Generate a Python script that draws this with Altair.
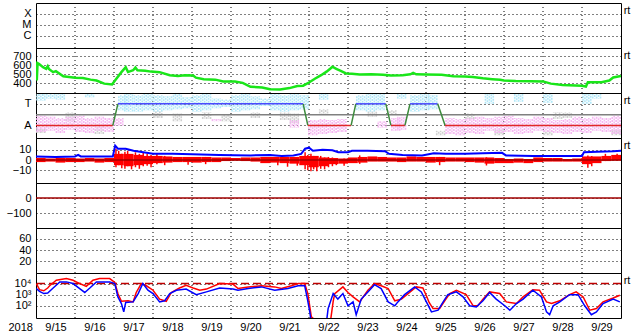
import altair as alt
import pandas as pd

FONT = "Liberation Sans"
W, H = 585, 45

# ---------------- data ----------------
day_labels = [f"9/{d}" for d in range(15, 30)]          # labels at noon of each day
grid_days = list(range(1, 15))                            # day boundaries (dotted)

# panel 1: flare class levels (log10)
xray_levels = [-6, -5, -4]
xray_names = ["C", "M", "X"]

# panel 2: solar wind speed (day since 9/15 00:00, km/s)
speed = [(0.0, 636), (0.02, 430), (0.04, 625), (0.08, 615), (0.18, 580), (0.26, 562), (0.3, 590),
         (0.33, 560), (0.44, 524), (0.51, 535), (0.7, 478), (0.85, 470), (1.0, 462), (1.2, 458),
         (1.4, 440), (1.55, 430), (1.75, 395), (1.95, 385), (2.06, 450), (2.19, 524), (2.3, 580),
         (2.36, 525), (2.49, 545), (2.55, 575), (2.6, 545), (2.8, 540), (2.95, 530), (3.17, 524),
         (3.43, 490), (3.64, 480), (3.82, 488), (4.03, 487), (4.1, 462), (4.3, 445), (4.6, 440),
         (4.8, 420), (5.1, 418), (5.3, 404), (5.5, 360), (5.8, 352), (6.0, 332), (6.26, 330),
         (6.5, 345), (6.7, 368), (6.85, 372), (7.0, 408), (7.15, 450), (7.3, 487), (7.45, 530),
         (7.55, 565), (7.6, 585), (7.7, 560), (7.8, 540), (7.95, 510), (8.1, 505), (8.3, 498),
         (8.6, 500), (8.9, 495), (9.1, 487), (9.4, 490), (9.6, 500), (9.67, 515), (9.75, 500),
         (10.0, 498), (10.4, 495), (10.7, 478), (11.0, 475), (11.2, 470), (11.46, 455), (11.7, 445),
         (11.9, 438), (12.0, 430), (12.3, 424), (12.7, 422), (13.0, 420), (13.2, 395), (13.5, 380),
         (14.0, 372), (14.1, 362), (14.15, 410), (14.5, 412), (14.7, 430), (14.8, 465), (15.0, 480)]

# panel 3: sector polarity (T = +1, A = -1) break points
sector_points = [(0, -1), (1.97, -1), (2.1, 1), (6.85, 1), (6.97, -1), (8.08, -1), (8.2, 1),
                 (8.97, 1), (9.1, -1), (9.46, -1), (9.59, 1), (10.3, 1), (10.49, -1), (15, -1)]
# scatter clouds per 6-hour bin: (bin start day, low, high)
cyan_cloud = [(0.0, 1.3, 1.9), (0.25, 1.5, 1.9), (0.5, 1.4, 1.9), (1.25, 1.6, 1.9),
              (2.1, 0.4, 1.8), (2.25, 0.3, 1.9), (2.5, 0.3, 1.8), (2.75, 0.4, 1.9), (3.0, 0.3, 1.8),
              (3.25, 0.4, 1.7), (3.5, 0.5, 1.9), (3.75, 0.6, 1.6), (4.0, 0.3, 1.8), (4.25, 0.4, 1.9),
              (4.5, 0.6, 1.5), (4.75, 0.7, 1.4), (5.0, 0.3, 1.8), (5.25, 0.4, 1.9), (5.5, 0.5, 1.7),
              (5.75, 0.8, 1.5), (6.0, 0.4, 1.9), (6.25, 0.3, 1.8), (6.5, 0.4, 1.9), (6.75, 0.5, 1.8),
              (7.25, 1.4, 1.9), (8.2, 0.4, 1.8), (8.45, 0.3, 1.9), (8.7, 0.4, 1.9),
              (9.25, 1.5, 1.9), (9.59, 0.3, 1.8), (9.84, 0.4, 1.9), (10.05, 0.5, 1.8),
              (11.5, 1.0, 1.9), (12.25, 1.2, 1.9), (13.0, 1.1, 1.9), (14.0, 1.0, 1.9), (14.25, 1.5, 1.9)]
pink_cloud = [(0.0, -1.6, -0.1), (0.25, -1.5, -0.2), (0.5, -1.7, -0.3), (0.75, -1.4, -0.2),
              (1.0, -1.6, -0.1), (1.25, -1.7, -0.3), (1.5, -1.5, -0.2), (1.75, -1.6, -0.3),
              (2.0, -1.0, -0.3), (4.5, -0.6, -0.4), (6.5, -1.2, -0.5), (6.97, -1.9, -0.5),
              (7.22, -1.8, -0.4), (7.47, -1.7, -0.5), (7.72, -1.6, -0.4), (8.75, -1.2, -0.6),
              (9.1, -1.5, -0.3), (9.25, -1.4, -0.2), (10.49, -1.8, -0.3), (10.75, -1.9, -0.4),
              (11.0, -1.7, -0.3), (11.25, -1.8, -0.2), (11.5, -1.5, -0.3), (11.75, -1.7, -0.2),
              (12.0, -1.6, -0.1), (12.25, -1.8, -0.3), (12.5, -1.7, -0.4), (12.75, -1.5, -0.2),
              (13.0, -1.6, -0.3), (13.25, -1.7, -0.5), (13.5, -1.8, -0.4), (13.75, -1.6, -0.2),
              (14.0, -1.7, -0.3), (14.25, -1.5, -0.2), (14.5, -1.6, -0.3), (14.75, -1.8, -0.1)]
gray_cloud = [(0.0, -1.7, -1.3), (0.75, -0.6, 0.2), (1.5, -1.8, -1.2), (3.0, -0.3, 0.3),
              (3.5, -0.6, 0.1), (4.25, -0.4, 0.2), (4.75, -0.6, 0.0), (5.5, -0.3, 0.2),
              (6.25, -0.5, 0.2), (6.5, -0.8, 0.1), (7.25, 0.1, 0.5), (8.5, -0.2, 0.3),
              (9.0, 0.0, 0.4), (10.25, -1.9, -1.5), (11.0, -0.4, 0.1), (11.75, -1.9, -1.4),
              (13.0, -1.9, -1.5), (13.25, -0.4, 0.2), (13.5, -0.3, 0.2), (14.75, -1.9, -1.4)]

# panel 4: IMF Bt (blue) and Bz (red, nT)
bt = [(0, 3.5), (0.5, 3.0), (1.0, 3.5), (1.08, 5.0), (1.15, 3.5), (1.97, 3.5), (2.03, 14), (2.1, 11),
      (2.3, 11), (2.5, 9), (2.75, 7.5), (3.0, 6), (3.5, 6), (4.0, 5.5), (4.7, 5), (5.5, 4.5),
      (6.0, 5), (6.3, 4), (6.6, 4.5), (6.8, 6), (6.9, 11), (7.0, 12), (7.1, 9), (7.35, 10),
      (7.6, 9.5), (7.75, 7.5), (8.0, 7.5), (8.1, 9), (8.5, 9), (8.95, 8.5), (9.05, 6), (9.4, 5),
      (9.9, 4.5), (10.2, 6.5), (10.5, 6), (11.0, 6), (11.46, 6.5), (11.95, 7), (12.05, 4.5),
      (12.75, 4), (13.5, 4), (14.0, 4), (14.05, 7.5), (14.4, 8), (14.8, 8.5), (15.0, 9)]
bz_lo = [-2, -1.5, -2.5, -2, -2, -1.5, -2.5, -2, -5, -6, -5, -4, -3, -2.5, -2, -2, -2.5, -2, -2,
         -1, -0.5, -1, -1.5, -3, -2.5, -3, -3.5, -5, -7, -6, -4, -3.5, -3, -2.5, -1.5, -1.5,
         -1.5, -2, -1.5, -1.5, -2.5, -2, -1.5, -1.5, -2, -2.5, -3.5, -3, -3, -2.5, -3, -2, -1.5,
         -1.5, -1.5, -1.5, -4, -3, -1, -0.5]
bz_hi = [2, 1.5, 2, 2, 1.5, 2, 1.5, 2, 6, 6, 5, 4, 4, 3.5, 3, 3, 3, 3, 2.5,
         2.5, 2, 2.5, 2.5, 3, 3, 3, 3, 4, 4, 2.5, 2, 1.5, 2.5, 3, 3.5, 3,
         2.5, 2.5, 3.5, 3, 3, 3, 2.5, 2.5, 2.5, 2.5, 2.5, 2, 1, 1.5, 1, 2.5, 2,
         2, 1, 1.5, 3.5, 3.5, 4, 5]
bz_spikes = [(2.05, -7, 11), (2.12, -5, 9), (2.2, -8, 6), (2.28, -8.5, 8), (2.35, -6, 9),
             (2.45, -9, 5), (2.55, -7, 7.5), (2.65, -8.5, 6), (2.75, -6, 7), (2.85, -5.5, 6),
             (2.95, -7, 5), (3.1, -4, 6), (3.3, -5, 4), (3.9, -4.5, 3), (4.35, -4, 3),
             (6.2, -5, 3), (6.45, -6.5, 3), (6.7, -5.5, 3), (6.9, -9, 7.5), (6.97, -10, 5),
             (7.05, -11, 6), (7.12, -9, 4), (7.2, -11, 3), (7.3, -8.5, 4), (7.4, -9, 2.5),
             (7.5, -7, 3), (7.6, -6, 2.5), (7.7, -5, 2), (7.9, -5.5, 1.5), (8.3, -3.7, 4.5),
             (10.35, -5, 3), (11.55, -5.3, 2.7), (14.15, -7.5, 4.4), (14.25, -6, 4),
             (14.6, -1, 6), (14.9, -0.5, 6)]

# panel 5 / 6 tick values
dst_ticks = [0, -100]
kp_ticks = [20, 40, 60]

# panel 7: electron flux, log10 (red and blue satellites)
flux_red = [(0.01, 4.0), (0.09, 3.45), (0.2, 3.35), (0.3, 3.6), (0.35, 3.8), (0.52, 4.3),
            (0.78, 4.45), (0.95, 4.3), (1.12, 4.0), (1.29, 3.75), (1.46, 4.3), (1.63, 4.45),
            (1.89, 4.45), (2.02, 4.1), (2.1, 3.1), (2.19, 2.4), (2.36, 2.45), (2.49, 2.35),
            (2.57, 3.2), (2.7, 4.0), (2.83, 3.8), (3.0, 3.4), (3.17, 2.6), (3.34, 2.4),
            (3.47, 3.2), (3.68, 3.6), (3.85, 3.85), (4.03, 3.6), (4.2, 3.4), (4.37, 3.5),
            (4.71, 4.0), (5.05, 3.95), (5.18, 3.55), (5.44, 3.7), (5.78, 3.8), (6.12, 3.7),
            (6.29, 3.55), (6.55, 3.8), (6.72, 4.0), (6.89, 4.0), (6.97, 3.1), (7.06, 1.0),
            (7.3, 0.3), (7.55, 0.6), (7.62, 2.4), (7.66, 3.1), (7.87, 3.7), (8.0, 3.2),
            (8.13, 2.8), (8.3, 2.35), (8.51, 3.4), (8.68, 4.0), (8.85, 3.8), (9.03, 3.55),
            (9.2, 2.45), (9.37, 2.6), (9.54, 3.1), (9.75, 3.7), (9.92, 3.6), (10.01, 2.9),
            (10.08, 2.3), (10.18, 1.75), (10.35, 1.75), (10.48, 2.45), (10.61, 3.1),
            (10.78, 3.4), (11.03, 3.0), (11.21, 2.0), (11.33, 2.0), (11.46, 2.6), (11.63, 3.25),
            (11.89, 3.1), (12.06, 2.35), (12.32, 2.2), (12.49, 2.8), (12.74, 3.45), (12.91, 3.4),
            (13.09, 2.35), (13.22, 2.2), (13.43, 2.45), (13.68, 3.0), (13.85, 3.25), (14.03, 2.8),
            (14.2, 1.6), (14.37, 1.75), (14.54, 2.35), (14.8, 2.7), (14.97, 2.95)]
flux_blue = [(0.01, 3.55), (0.09, 3.3), (0.2, 3.1), (0.3, 3.15), (0.44, 3.6), (0.61, 4.15),
             (0.78, 4.15), (0.95, 4.0), (1.12, 3.55), (1.25, 3.2), (1.38, 3.6), (1.55, 4.15),
             (1.89, 4.15), (2.02, 4.0), (2.1, 2.8), (2.19, 2.2), (2.25, 1.45), (2.3, 2.3),
             (2.49, 2.35), (2.62, 3.1), (2.74, 4.0), (2.87, 3.4), (3.0, 3.1), (3.17, 2.35),
             (3.3, 2.45), (3.43, 3.1), (3.6, 3.4), (3.85, 3.5), (4.11, 3.0), (4.37, 3.25),
             (4.71, 3.6), (5.05, 3.5), (5.18, 3.4), (5.44, 3.55), (5.78, 3.7), (6.12, 3.4),
             (6.46, 3.55), (6.72, 3.8), (6.89, 3.8), (6.96, 2.6), (7.02, 1.45), (7.06, 0.5),
             (7.3, 0.4), (7.45, 0.6), (7.49, 1.75), (7.62, 3.1), (7.74, 2.6), (7.87, 3.1),
             (8.0, 2.0), (8.13, 2.35), (8.21, 1.2), (8.34, 2.6), (8.51, 3.25), (8.68, 3.9),
             (8.85, 3.55), (9.03, 2.35), (9.2, 2.0), (9.28, 2.35), (9.45, 3.0), (9.71, 3.7),
             (9.88, 3.25), (10.01, 2.35), (10.14, 1.45), (10.31, 1.6), (10.44, 2.35),
             (10.56, 3.0), (10.78, 3.25), (10.95, 2.8), (11.12, 2.0), (11.29, 1.9), (11.46, 2.45),
             (11.63, 3.2), (11.8, 2.6), (12.02, 2.0), (12.15, 1.6), (12.32, 2.2), (12.49, 2.6),
             (12.74, 3.4), (12.96, 2.8), (13.09, 1.45), (13.17, 1.2), (13.26, 2.0), (13.43, 2.35),
             (13.68, 3.0), (13.9, 3.0), (14.07, 2.0), (14.24, 1.2), (14.37, 1.45), (14.54, 2.2),
             (14.8, 2.6), (14.97, 2.35)]
flux_ticks = [100, 1000, 10000]
flux_names = ["10\u00b2", "10\u00b3", "10\u2074"]
flux_threshold = [10000]

# ---------------- helpers ----------------
XS = alt.Scale(domain=[0, 15], nice=False, zero=False)
LABEL_SIZE = 11


def ternary(values, names):
    expr = "''"
    for v, n in zip(values, names):
        expr = f"datum.value == {v} ? '{n}' : ({expr})"
    return expr


def yaxis(values, names=None):
    kw = dict(values=values, grid=True, gridColor="black", gridDash=[1, 3], gridOpacity=1,
              gridWidth=1, ticks=False, domain=False, labelPadding=5, title=None,
              labelFont=FONT, labelFontSize=LABEL_SIZE, labelColor="black", labelOverlap=False,
              labelFlush=False, labelBound=False)
    if names is not None:
        kw["labelExpr"] = ternary(values, names)
    return alt.Axis(**kw)


BOTTOM_AXIS = alt.Axis(values=[i + 0.5 for i in range(15)],
                       labelExpr="[" + ",".join(f"'{s}'" for s in day_labels) + "][floor(datum.value)]",
                       ticks=False, domain=False, grid=False, labelPadding=3, tickSize=0,
                       labelFont=FONT, labelFontSize=LABEL_SIZE, labelColor="black",
                       labelOverlap=False, labelFlush=False,
                       title="2018", titleX=-28, titleY=3, titleAlign="left",
                       titleBaseline="top", titleAngle=0, titleFont=FONT, titleFontSize=LABEL_SIZE,
                       titleFontWeight="normal", titleColor="black")


def vgrid(xaxis=None):
    return alt.Chart(pd.DataFrame({"d": grid_days})).mark_rule(
        color="black", strokeDash=[1, 3], strokeWidth=1).encode(
        x=alt.X("d:Q", scale=XS, axis=xaxis))


def rt_mark():
    return alt.Chart(pd.DataFrame({"t": ["rt"]})).mark_text(
        font=FONT, fontSize=11, align="center", baseline="middle", color="black").encode(
        x=alt.value(591), y=alt.value(8), text="t:N")


def pairs(lst, a, b):
    return pd.DataFrame(lst, columns=[a, b])


# ---------------- panel 1 ----------------
ax1 = yaxis(xray_levels, xray_names)
ys1 = alt.Scale(domain=[-7.1, -3.0], nice=False, zero=False)
p1 = alt.layer(
    vgrid(),
    alt.Chart(pd.DataFrame({"v": xray_levels})).mark_rule(opacity=0).encode(
        y=alt.Y("v:Q", scale=ys1, axis=ax1)),
    rt_mark(),
).properties(width=W, height=H)

# ---------------- panel 2 ----------------
ax2 = yaxis([400, 500, 600, 700])
ys2 = alt.Scale(domain=[290, 795], nice=False, zero=False)
p2 = alt.layer(
    vgrid(),
    alt.Chart(pairs(speed, "day", "v")).mark_line(color="#19e619", strokeWidth=2.5, clip=True).encode(
        x=alt.X("day:Q", scale=XS, axis=None), y=alt.Y("v:Q", scale=ys2, axis=ax2)),
    rt_mark(),
).properties(width=W, height=H)

# ---------------- panel 3 ----------------
ax3 = yaxis([-1, 1], ["A", "T"])
ys3 = alt.Scale(domain=[-2.16, 2.0], nice=False, zero=False)

# each 6-hour cloud bin is drawn as a few dotted streaks (speckled texture)
STREAK_OFFSETS = [0.0, 0.05, 0.1, 0.15, 0.2]


def cloud(lst, color):
    rows = []
    for d0, lo, hi in lst:
        for j, off in enumerate(STREAK_OFFSETS):
            rows.append(dict(day=d0 + off + 0.025, lo=lo, hi=hi, ph=j % 2))
    df = pd.DataFrame(rows)
    layers = []
    for ph in (0, 1):
        layers.append(alt.Chart(df[df.ph == ph]).mark_rule(
            color=color, strokeWidth=1.6, strokeDash=[2, 1], strokeDashOffset=ph * 1.5,
            clip=True).encode(
            x=alt.X("day:Q", scale=XS, axis=None),
            y=alt.Y("lo:Q", scale=ys3, axis=ax3), y2="hi"))
    return layers


segs = []
for (d0, v0), (d1, v1) in zip(sector_points[:-1], sector_points[1:]):
    k = ("T" if v0 > 0 else "A") if v0 == v1 else "X"
    segs.append(dict(d0=d0, d1=d1, v0=v0, v1=v1, k=k))
p3 = alt.layer(
    vgrid(),
    *cloud(gray_cloud, "#cfcfcf"),
    *cloud(cyan_cloud, "#b2e8f8"),
    *cloud(pink_cloud, "#f5b8f2"),
    alt.Chart(pd.DataFrame({"v": [0]})).mark_rule(color="#808080", strokeWidth=1.5).encode(
        y=alt.Y("v:Q", scale=ys3, axis=ax3)),
    alt.Chart(pd.DataFrame(segs)).mark_rule(strokeWidth=1.5).encode(
        x=alt.X("d0:Q", scale=XS, axis=None), x2="d1",
        y=alt.Y("v0:Q", scale=ys3, axis=ax3), y2="v1",
        color=alt.Color("k:N", scale=alt.Scale(domain=["T", "A", "X"],
                                               range=["#4a4aff", "#e02828", "#3c8a3c"]),
                        legend=None)),
    rt_mark(),
).properties(width=W, height=H)

# ---------------- panel 4 ----------------
ax4 = yaxis([-10, 0, 10])
ys4 = alt.Scale(domain=[-22.3, 21.4], nice=False, zero=False)
bz_df = pd.DataFrame({"d0": [i * 0.25 for i in range(60)], "lo": bz_lo, "hi": bz_hi})
bz_df["d1"] = bz_df["d0"] + 0.25
sp_df = pd.DataFrame(bz_spikes, columns=["day", "lo", "hi"])
p4 = alt.layer(
    vgrid(),
    alt.Chart(bz_df).mark_rect(color="#ff0000", clip=True).encode(
        x=alt.X("d0:Q", scale=XS, axis=None), x2="d1",
        y=alt.Y("lo:Q", scale=ys4, axis=ax4), y2="hi"),
    alt.Chart(sp_df).mark_rule(color="#ff0000", strokeWidth=1.5, clip=True).encode(
        x=alt.X("day:Q", scale=XS, axis=None),
        y=alt.Y("lo:Q", scale=ys4, axis=ax4), y2="hi"),
    alt.Chart(pd.DataFrame({"v": [0]})).mark_rule(color="#a00000", strokeWidth=1.5).encode(
        y=alt.Y("v:Q", scale=ys4, axis=ax4)),
    alt.Chart(pairs(bt, "day", "v")).mark_line(color="#0000ff", strokeWidth=2, clip=True).encode(
        x=alt.X("day:Q", scale=XS, axis=None), y=alt.Y("v:Q", scale=ys4, axis=ax4)),
    rt_mark(),
).properties(width=W, height=H)

# ---------------- panel 5 ----------------
ax5 = yaxis(dst_ticks)
ys5 = alt.Scale(domain=[-200, 100], nice=False, zero=False)
p5 = alt.layer(
    vgrid(),
    alt.Chart(pd.DataFrame({"v": [0]})).mark_rule(color="#a00000", strokeWidth=1.5).encode(
        y=alt.Y("v:Q", scale=ys5, axis=ax5)),
).properties(width=W, height=H)

# ---------------- panel 6 ----------------
ax6 = yaxis(kp_ticks)
ys6 = alt.Scale(domain=[-1, 79.5], nice=False, zero=False)
p6 = alt.layer(
    vgrid(),
    alt.Chart(pd.DataFrame({"v": kp_ticks})).mark_rule(opacity=0).encode(
        y=alt.Y("v:Q", scale=ys6, axis=ax6)),
).properties(width=W, height=H)

# ---------------- panel 7 ----------------
ax7 = yaxis(flux_ticks, flux_names)
ys7 = alt.Scale(type="log", domain=[10 ** 0.9, 10 ** 4.95], nice=False)


def flux_line(lst, color):
    df = pd.DataFrame(lst, columns=["day", "lg"])
    df["v"] = 10 ** df["lg"]
    return alt.Chart(df).mark_line(color=color, strokeWidth=1.5, clip=True).encode(
        x=alt.X("day:Q", scale=XS, axis=BOTTOM_AXIS), y=alt.Y("v:Q", scale=ys7, axis=ax7))


p7 = alt.layer(
    vgrid(BOTTOM_AXIS),
    alt.Chart(pd.DataFrame({"v": flux_threshold})).mark_rule(
        color="#c00000", strokeDash=[8, 4], strokeWidth=1.5).encode(
        y=alt.Y("v:Q", scale=ys7, axis=ax7)),
    flux_line(flux_red, "#ff0000"),
    flux_line(flux_blue, "#0000ff"),
    rt_mark(),
).properties(width=W, height=H)

chart = alt.vconcat(p1, p2, p3, p4, p5, p6, p7, spacing=0, bounds="flush").properties(
    padding={"left": 5, "top": 2, "right": 2, "bottom": 0},
    background="white",
).configure_view(stroke="black", strokeWidth=1)

chart.save("out.html", embed_options={"renderer": "svg", "actions": False})
